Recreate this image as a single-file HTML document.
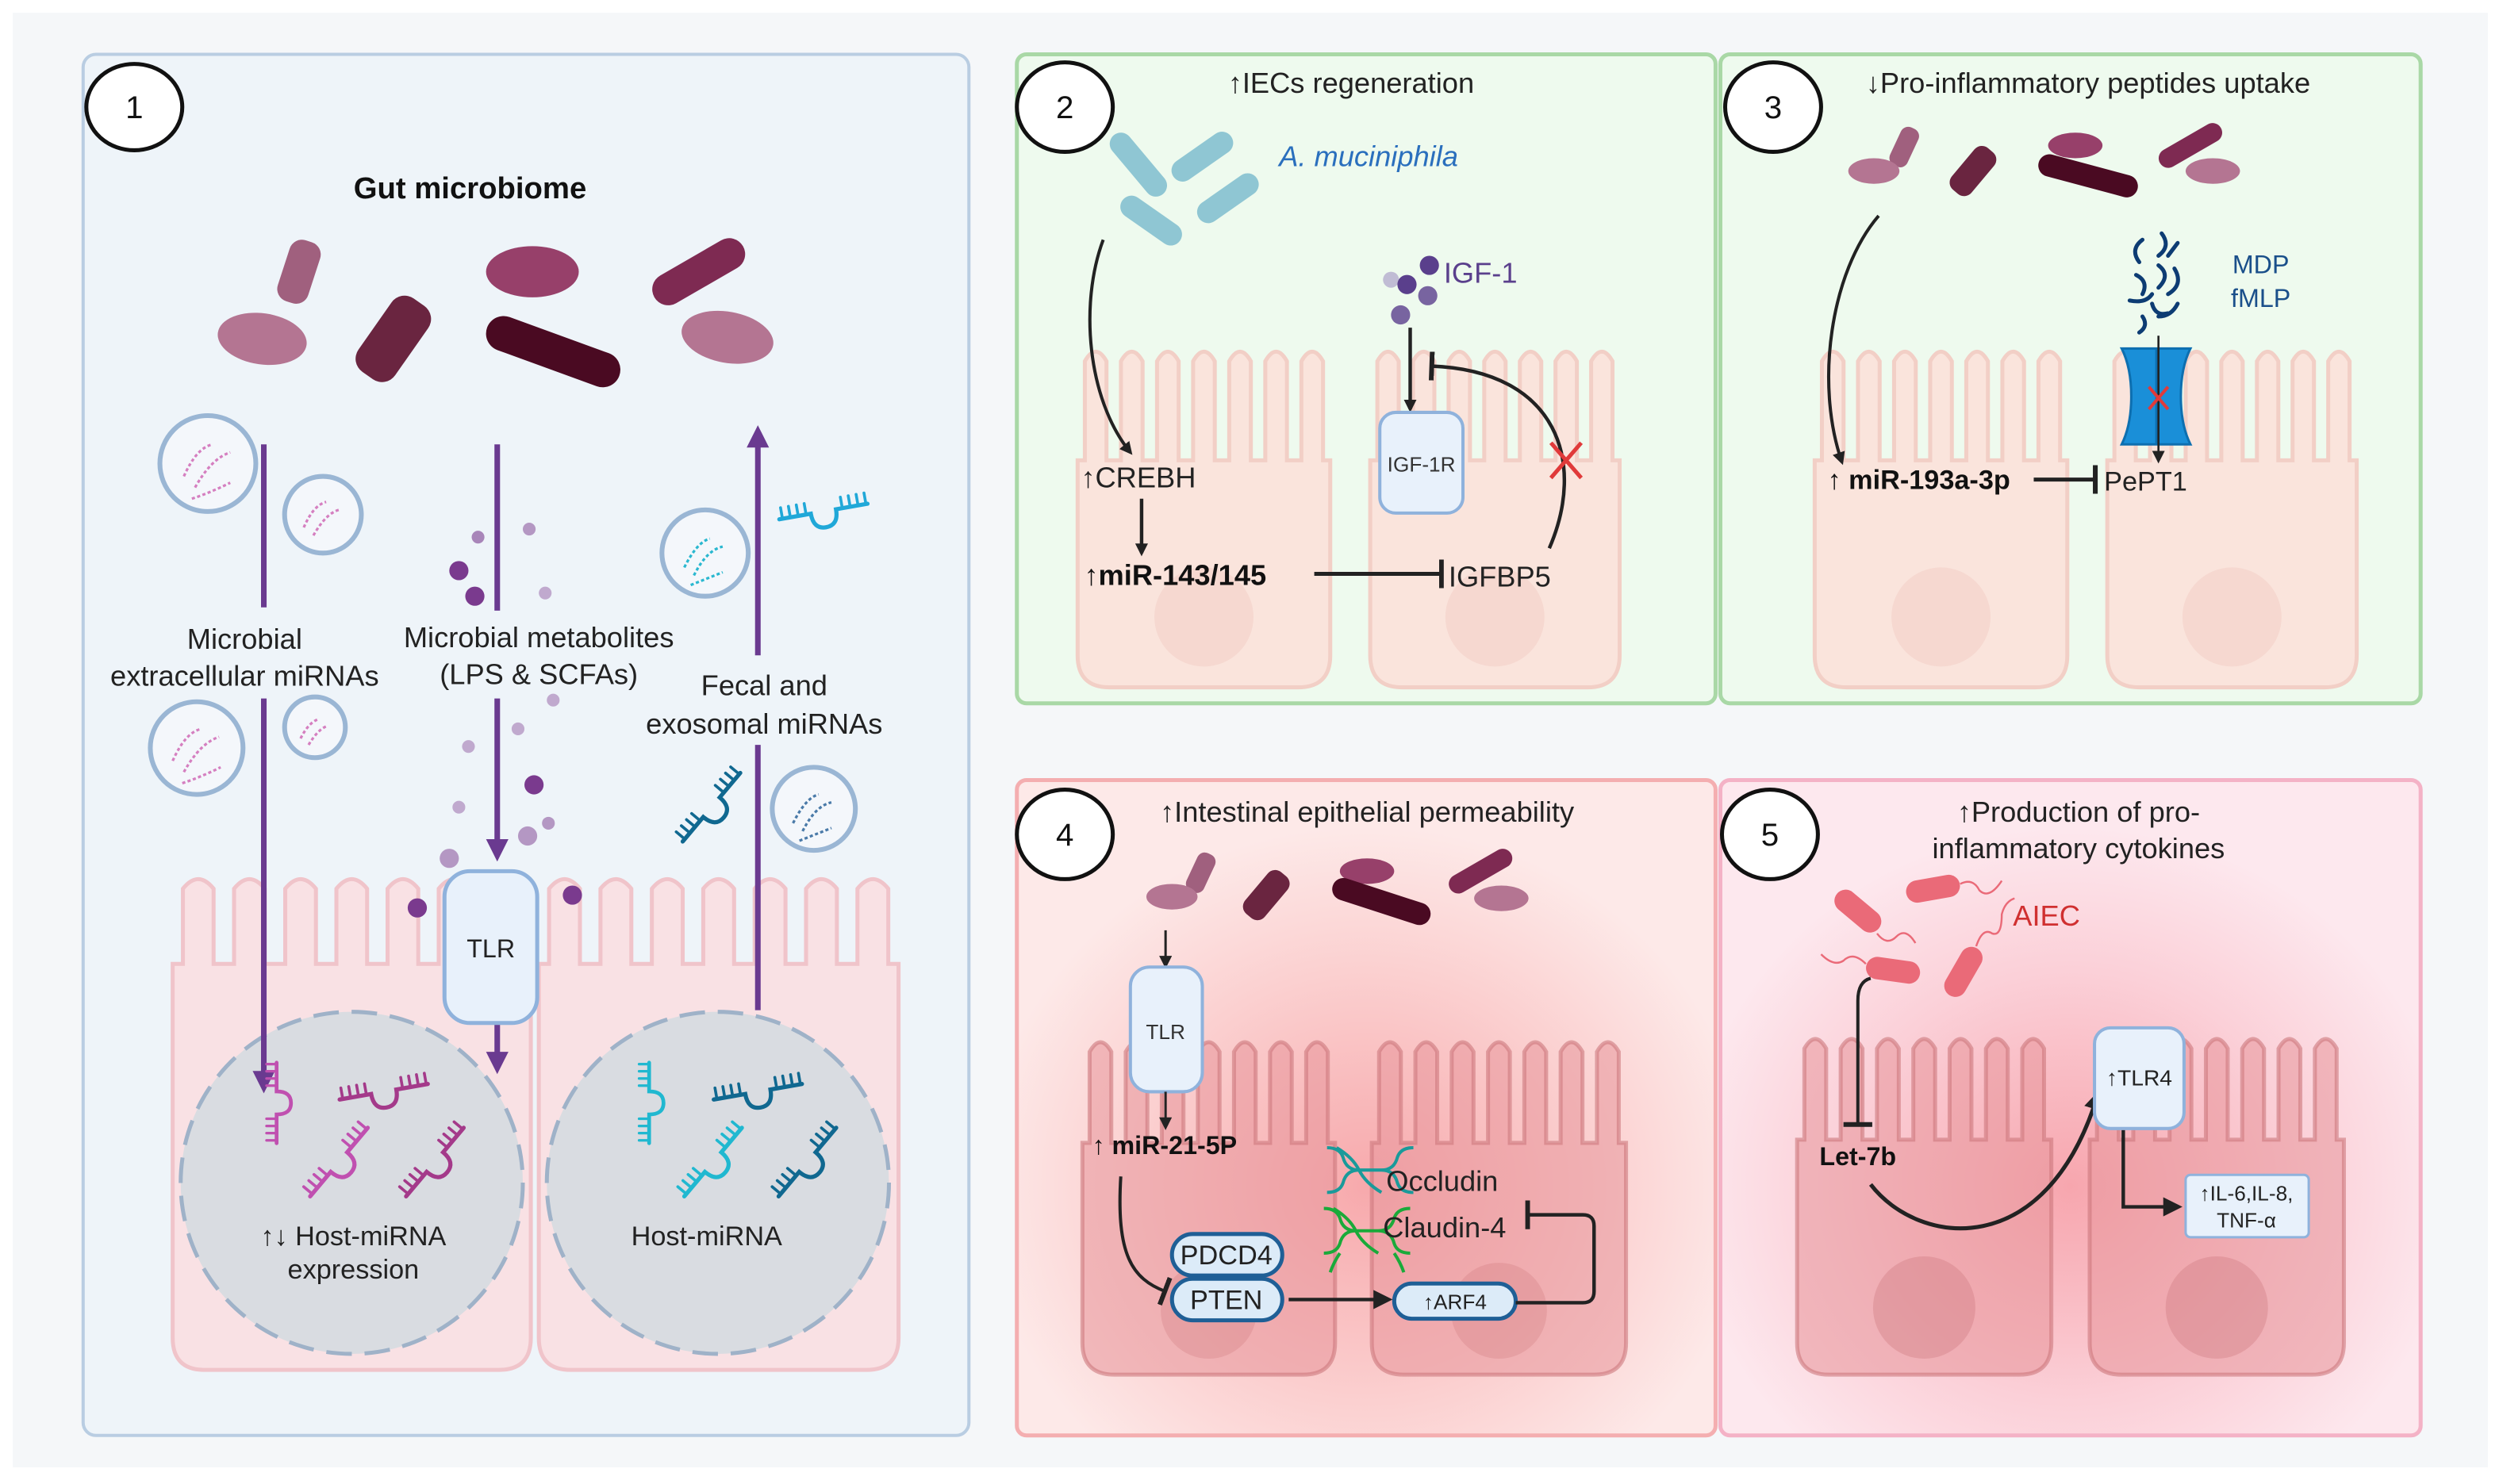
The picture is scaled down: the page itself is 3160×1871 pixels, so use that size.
<!DOCTYPE html>
<html><head><meta charset="utf-8"><style>
html,body{margin:0;padding:0;background:#fff;}
svg{display:block;}
text{font-family:"Liberation Sans",sans-serif;}
</style></head><body>
<svg id="s" width="3160" height="1871" viewBox="0 0 1568 928.4" preserveAspectRatio="none" xmlns="http://www.w3.org/2000/svg">
<defs>
<radialGradient id="g4" cx="0.5" cy="0.62" r="0.55"><stop offset="0" stop-color="#f7a9ac"/><stop offset="0.6" stop-color="#fbd0d0"/><stop offset="1" stop-color="#fde9e8"/></radialGradient>
<radialGradient id="g5" cx="0.5" cy="0.62" r="0.55"><stop offset="0" stop-color="#f7a6ae"/><stop offset="0.6" stop-color="#fbd0d8"/><stop offset="1" stop-color="#fde8ee"/></radialGradient>
<marker id="ak" markerWidth="8" markerHeight="8" refX="6" refY="4" orient="auto" markerUnits="userSpaceOnUse"><path d="M0,0 L8,4 L0,8z" fill="#222"/></marker>
<marker id="ak2" markerWidth="12" markerHeight="12" refX="9" refY="6" orient="auto" markerUnits="userSpaceOnUse"><path d="M0,0 L12,6 L0,12z" fill="#222"/></marker>
<marker id="ap" markerWidth="14" markerHeight="14" refX="10" refY="7" orient="auto" markerUnits="userSpaceOnUse"><path d="M0,0 L14,7 L0,14z" fill="#6a3a90"/></marker>
<marker id="bar" markerWidth="4" markerHeight="18" refX="2" refY="9" orient="auto" markerUnits="userSpaceOnUse"><rect x="0" y="0" width="3" height="18" fill="#222"/></marker>
</defs>
<rect x="0" y="0" width="1568" height="928.4" fill="#fff"/>
<rect x="8" y="8" width="1548" height="910" fill="#f5f7f9"/>
<rect x="52" y="34" width="554" height="864" rx="8" fill="#eef4f9" stroke="#b9cde2" stroke-width="2"/>
<rect x="636" y="34" width="437" height="406" rx="6" fill="#eefaee" stroke="#a9d8a6" stroke-width="2.5"/>
<rect x="1076" y="34" width="438" height="406" rx="6" fill="#eefaee" stroke="#a9d8a6" stroke-width="2.5"/>
<rect x="636" y="488" width="437" height="410" rx="6" fill="url(#g4)" stroke="#f4aeb0" stroke-width="2.5"/>
<rect x="1076" y="488" width="438" height="410" rx="6" fill="url(#g5)" stroke="#f4b2c6" stroke-width="2.5"/>
<g id="cells"></g>
<circle cx="220" cy="740" r="107" fill="#d9dce1" stroke="#9fb2c8" stroke-width="2.5" stroke-dasharray="16 8"/>
<circle cx="449" cy="740" r="107" fill="#d9dce1" stroke="#9fb2c8" stroke-width="2.5" stroke-dasharray="16 8"/>
<g fill="#fff" stroke="#111" stroke-width="2.5">
<ellipse cx="84" cy="67" rx="30" ry="27"/><ellipse cx="666" cy="67" rx="30" ry="28"/><ellipse cx="1109" cy="67" rx="30" ry="28"/><ellipse cx="666" cy="522" rx="30" ry="28"/><ellipse cx="1107" cy="522" rx="30" ry="28"/>
</g>
<g font-size="20" text-anchor="middle" fill="#111">
<text x="84" y="74">1</text><text x="666" y="74">2</text><text x="1109" y="74">3</text><text x="666" y="529">4</text><text x="1107" y="529">5</text>
</g>
<g>
<rect x="-10" y="-20" width="20" height="40" rx="8" transform="translate(187,170) rotate(18)" fill="#a0607e"/>
<ellipse cx="164" cy="212" rx="28" ry="16" fill="#b47592" transform="rotate(8 164 212)"/>
<rect x="-14" y="-28" width="28" height="56" rx="10" transform="translate(246,212) rotate(35)" fill="#6a2540"/>
<ellipse cx="333" cy="170" rx="29" ry="16" fill="#97406a"/>
<rect x="-44" y="-11" width="88" height="22" rx="11" transform="translate(346,220) rotate(20)" fill="#4a0a22"/>
<rect x="-32" y="-10" width="64" height="20" rx="10" transform="translate(437,170) rotate(-30)" fill="#7e2a52"/>
<ellipse cx="455" cy="211" rx="29" ry="16" fill="#b47592" transform="rotate(10 455 211)"/>
</g>
<text x="294" y="124" font-size="19" font-weight="bold" text-anchor="middle" fill="#111">Gut microbiome</text>
<g fill="#f4f7fb" stroke="#9ab6d4" stroke-width="3">
<circle cx="130" cy="290" r="30"/><circle cx="202" cy="322" r="24"/><circle cx="123" cy="468" r="29"/><circle cx="197" cy="455" r="19"/><circle cx="441" cy="346" r="27"/><circle cx="509" cy="506" r="26"/>
</g>
<g fill="none" stroke-width="1.6" stroke-dasharray="2 1.5">
<g stroke="#d57fc0"><path d="M115,298 q8,-18 18,-20 M122,305 q10,-18 22,-22 M120,312 q12,-4 24,-10"/><path d="M190,330 q6,-14 14,-16 M196,335 q8,-14 16,-16"/><path d="M108,476 q8,-18 18,-20 M115,483 q10,-18 22,-22 M114,490 q12,-4 24,-10"/><path d="M188,462 q5,-10 11,-12 M193,466 q6,-10 12,-12"/></g>
<path stroke="#2ab8d0" d="M428,355 q8,-16 16,-18 M434,360 q8,-16 18,-18 M432,366 q10,-4 20,-8"/>
<path stroke="#4a7aa8" d="M496,515 q8,-16 16,-18 M502,520 q8,-16 18,-18 M500,526 q10,-4 20,-8"/>
</g>
<g fill="#7a3a8e">
<circle cx="299" cy="336" r="4" opacity="0.6"/><circle cx="287" cy="357" r="6"/><circle cx="331" cy="331" r="4" opacity="0.5"/><circle cx="297" cy="373" r="6"/><circle cx="341" cy="371" r="4" opacity="0.4"/><circle cx="346" cy="438" r="4" opacity="0.4"/><circle cx="324" cy="456" r="4" opacity="0.4"/><circle cx="293" cy="467" r="4" opacity="0.4"/><circle cx="334" cy="491" r="6"/><circle cx="287" cy="505" r="4" opacity="0.4"/><circle cx="330" cy="523" r="6" opacity="0.5"/><circle cx="343" cy="515" r="4" opacity="0.5"/><circle cx="281" cy="537" r="6" opacity="0.5"/><circle cx="261" cy="568" r="6"/><circle cx="358" cy="560" r="6"/>
</g>
<g stroke="#6a3a90" stroke-width="3.5" fill="none">
<path d="M165,278 V380"/><path d="M165,437 V680" marker-end="url(#ap)"/>
<path d="M311,278 V382"/><path d="M311,437 V535" marker-end="url(#ap)"/>
<path d="M311,640 V668" marker-end="url(#ap)"/>
<path d="M474,632 V466"/><path d="M474,410 V270" marker-end="url(#ap)"/>
</g>
<g font-size="18" text-anchor="middle" fill="#222">
<text x="153" y="406">Microbial</text><text x="153" y="429">extracellular miRNAs</text>
<text x="337" y="405">Microbial metabolites</text><text x="337" y="428">(LPS &amp; SCFAs)</text>
<text x="478" y="435">Fecal and</text><text x="478" y="459">exosomal miRNAs</text>
</g>
<rect x="278" y="545" width="58" height="95" rx="16" fill="#e8f1fb" stroke="#8fb2dc" stroke-width="2.5"/>
<text x="307" y="599" font-size="16" text-anchor="middle" fill="#222">TLR</text>
<g id="mirs" fill="none" stroke-width="2.6" stroke-linecap="round"></g>
<g font-size="17" text-anchor="middle" fill="#222">
<text x="221" y="779">↑↓ Host-miRNA</text><text x="221" y="800">expression</text>
<text x="442" y="779">Host-miRNA</text>
</g>

<!-- PANEL 2 -->
<text x="845" y="58" font-size="18" text-anchor="middle" fill="#222">↑IECs regeneration</text>
<g fill="#8fc6d3">
<rect x="-7" y="-24" width="14" height="48" rx="7" transform="translate(712,103) rotate(-40)"/>
<rect x="-7" y="-22" width="14" height="44" rx="7" transform="translate(752,98) rotate(55)"/>
<rect x="-7" y="-22" width="14" height="44" rx="7" transform="translate(720,138) rotate(-55)"/>
<rect x="-7" y="-22" width="14" height="44" rx="7" transform="translate(768,124) rotate(55)"/>
</g>
<text x="856" y="104" font-size="18" font-style="italic" fill="#2a6fbd" text-anchor="middle">A. muciniphila</text>
<path d="M690,150 C675,190 680,250 707,283" stroke="#222" stroke-width="2" fill="none" marker-end="url(#ak)"/>
<text x="676" y="305" font-size="18" fill="#222">↑CREBH</text>
<path d="M714,312 V346" stroke="#222" stroke-width="2.2" marker-end="url(#ak)"/>
<text x="678" y="366" font-size="18" font-weight="bold" fill="#111">↑miR-143/145</text>
<path d="M822,359 H902" stroke="#222" stroke-width="2.5" marker-end="url(#bar)"/>
<text x="906" y="367" font-size="18" fill="#222">IGFBP5</text>
<g fill="#5a3f8c"><circle cx="870" cy="175" r="5" fill="#c0bcd4"/><circle cx="880" cy="178" r="6"/><circle cx="894" cy="166" r="6"/><circle cx="893" cy="185" r="6" opacity="0.8"/><circle cx="876" cy="197" r="6" opacity="0.8"/></g>
<text x="903" y="177" font-size="18" fill="#5a3f8c">IGF-1</text>
<path d="M882,205 V256" stroke="#222" stroke-width="2.2" marker-end="url(#ak)"/>
<rect x="863" y="258" width="52" height="63" rx="10" fill="#e8f1fb" stroke="#8fb2dc" stroke-width="2"/>
<text x="889" y="295" font-size="13" text-anchor="middle" fill="#333">IGF-1R</text>
<path d="M969,343 C992,290 975,232 895,229" stroke="#222" stroke-width="2.2" fill="none" marker-end="url(#bar)"/>
<path d="M970,277 L989,299 M989,277 L970,299" stroke="#e03a3a" stroke-width="2.5"/>

<!-- PANEL 3 -->
<text x="1306" y="58" font-size="18" text-anchor="middle" fill="#222">↓Pro-inflammatory peptides uptake</text>
<g>
<rect x="-6" y="-13" width="12" height="26" rx="5" transform="translate(1191,92) rotate(25)" fill="#a0607e"/>
<ellipse cx="1172" cy="107" rx="16" ry="8" fill="#b47592"/>
<rect x="-8" y="-17" width="16" height="34" rx="6" transform="translate(1234,107) rotate(40)" fill="#6a2540"/>
<ellipse cx="1298" cy="91" rx="17" ry="8" fill="#97406a"/>
<rect x="-32" y="-7" width="64" height="14" rx="7" transform="translate(1306,110) rotate(15)" fill="#4a0a22"/>
<rect x="-22" y="-6" width="44" height="12" rx="6" transform="translate(1370,91) rotate(-30)" fill="#7e2a52"/>
<ellipse cx="1384" cy="107" rx="17" ry="8" fill="#b47592"/>
</g>
<path d="M1175,135 C1145,170 1135,240 1152,289" stroke="#222" stroke-width="2" fill="none" marker-end="url(#ak)"/>
<g stroke="#0d3c73" stroke-width="2.5" fill="none" stroke-linecap="round">
<path d="M1340,150 q-8,6 -2,14 M1352,146 q6,8 -2,14 M1336,172 q8,4 4,12 M1350,166 q8,6 0,14 M1360,168 q6,10 -4,16 M1332,188 q10,2 14,-4 M1346,190 q2,8 10,6 M1362,190 q-4,8 -12,8 M1340,198 q4,6 -2,10 M1356,160 l6,-8"/>
</g>
<text x="1414" y="171" font-size="16" text-anchor="middle" fill="#1a4f8a">MDP</text>
<text x="1414" y="192" font-size="16" text-anchor="middle" fill="#1a4f8a">fMLP</text>
<path d="M1327,218 h43 q-6,12 -6,30 q0,18 6,30 h-43 q6,-12 6,-30 q0,-18 -6,-30z" fill="#1a8fd8" stroke="#0d6fb0" stroke-width="1.5"/>
<path d="M1349,218 v60" stroke="#0d6fb0" stroke-width="2"/>
<path d="M1350,210 V288" stroke="#222" stroke-width="1.3" marker-end="url(#ak)"/>
<path d="M1344,242 l12,14 M1356,242 l-12,14" stroke="#e03a3a" stroke-width="2"/>
<text x="1143" y="306" font-size="17" font-weight="bold" fill="#111">↑ miR-193a-3p</text>
<path d="M1272,300 H1311" stroke="#222" stroke-width="2.5" marker-end="url(#bar)"/>
<text x="1316" y="307" font-size="17" fill="#222">PePT1</text>

<!-- PANEL 4 -->
<text x="855" y="514" font-size="18" text-anchor="middle" fill="#222">↑Intestinal epithelial permeability</text>
<g>
<rect x="-6" y="-13" width="12" height="26" rx="5" transform="translate(751,546) rotate(25)" fill="#a0607e"/>
<ellipse cx="733" cy="561" rx="16" ry="8" fill="#b47592"/>
<rect x="-8" y="-17" width="16" height="34" rx="6" transform="translate(792,560) rotate(40)" fill="#6a2540"/>
<ellipse cx="855" cy="545" rx="17" ry="8" fill="#97406a"/>
<rect x="-32" y="-7" width="64" height="14" rx="7" transform="translate(864,564) rotate(18)" fill="#4a0a22"/>
<rect x="-22" y="-6" width="44" height="12" rx="6" transform="translate(926,545) rotate(-30)" fill="#7e2a52"/>
<ellipse cx="939" cy="562" rx="17" ry="8" fill="#b47592"/>
</g>
<path d="M729,582 V604" stroke="#222" stroke-width="1.5" marker-end="url(#ak)"/>
<rect x="707" y="605" width="45" height="78" rx="12" fill="#e8f1fb" stroke="#8fb2dc" stroke-width="2"/>
<text x="729" y="650" font-size="13" text-anchor="middle" fill="#333">TLR</text>
<path d="M729,683 V705" stroke="#222" stroke-width="1.5" marker-end="url(#ak)"/>
<text x="683" y="722" font-size="16" font-weight="bold" fill="#111">↑ miR-21-5P</text>
<path d="M701,736 C698,785 708,800 729,808" stroke="#222" stroke-width="2" fill="none" marker-end="url(#bar)"/>
<g stroke="#1f5f96" stroke-width="2.5" fill="#dcebf8">
<rect x="733" y="772" width="69" height="26" rx="13"/><rect x="733" y="800" width="69" height="26" rx="13"/>
<rect x="872" y="803" width="76" height="22" rx="11"/>
</g>
<g font-size="17" text-anchor="middle" fill="#222"><text x="767" y="791">PDCD4</text><text x="767" y="819">PTEN</text></g>
<text x="910" y="819" font-size="13" text-anchor="middle" fill="#222">↑ARF4</text>
<path d="M806,813 H868" stroke="#222" stroke-width="2.2" marker-end="url(#ak2)"/>
<path d="M948,815 H990 Q997,815 997,808 V767 Q997,760 990,760 H955" stroke="#222" stroke-width="2.2" fill="none" marker-end="url(#bar)"/>
<g fill="none" stroke-width="2">
<g stroke="#1a9a9a"><path d="M830,718 q8,0 10,6 q2,8 10,8 h14 q8,0 10,-8 q2,-6 10,-6 M830,746 q8,0 10,-6 q2,-8 10,-8 M864,732 q8,0 10,8 q2,6 10,6 M836,718 q10,6 14,14 q4,8 14,14"/></g>
<g stroke="#1aaa3a"><path d="M828,756 q8,0 10,6 q2,8 10,8 h14 q8,0 10,-8 q2,-6 10,-6 M828,784 q8,0 10,-6 q2,-8 10,-8 M862,770 q8,0 10,8 q2,6 10,6 M834,756 q10,6 14,14 q4,8 14,14 M838,784 q-4,6 -6,12 M872,784 q4,6 6,12"/></g>
</g>
<g font-size="18" fill="#222"><text x="867" y="745">Occludin</text><text x="865" y="774">Claudin-4</text></g>

<!-- PANEL 5 -->
<g font-size="18" text-anchor="middle" fill="#222"><text x="1300" y="514">↑Production of pro-</text><text x="1300" y="537">inflammatory cytokines</text></g>
<g fill="#ea6a78">
<rect x="-17" y="-7" width="34" height="14" rx="7" transform="translate(1162,570) rotate(40)"/>
<rect x="-17" y="-7" width="34" height="14" rx="7" transform="translate(1209,556) rotate(-10)"/>
<rect x="-17" y="-7" width="34" height="14" rx="7" transform="translate(1184,607) rotate(8)"/>
<rect x="-17" y="-7" width="34" height="14" rx="7" transform="translate(1228,608) rotate(-60)"/>
</g>
<g stroke="#ea6a78" stroke-width="1.2" fill="none">
<path d="M1174,584 q6,8 12,2 q6,-6 12,4"/><path d="M1226,553 q8,-4 12,4 q6,6 14,-6"/><path d="M1167,603 q-8,-8 -14,-2 q-6,4 -14,-4"/><path d="M1236,592 q4,-12 10,-8 q6,2 6,-12 q2,-8 8,-10"/>
</g>
<text x="1280" y="579" font-size="18" text-anchor="middle" fill="#d03030">AIEC</text>
<path d="M1170,612 Q1162,614 1162,626 V704" stroke="#222" stroke-width="2" fill="none" marker-end="url(#bar)"/>
<text x="1162" y="729" font-size="16" font-weight="bold" text-anchor="middle" fill="#111">Let-7b</text>
<path d="M1170,741 C1200,780 1280,790 1312,685" stroke="#222" stroke-width="2.5" fill="none" marker-end="url(#ak2)"/>
<rect x="1310" y="643" width="56" height="63" rx="10" fill="#e8f1fb" stroke="#8fb2dc" stroke-width="2"/>
<text x="1338" y="679" font-size="14" text-anchor="middle" fill="#222">↑TLR4</text>
<path d="M1328,707 V755 H1362" stroke="#222" stroke-width="2.2" fill="none" marker-end="url(#ak2)"/>
<rect x="1367" y="735" width="77" height="39" rx="3" fill="#e8f1fb" stroke="#8fb2dc" stroke-width="1.5"/>
<g font-size="13" text-anchor="middle" fill="#222"><text x="1405" y="751">↑IL-6,IL-8,</text><text x="1405" y="768">TNF-α</text></g>
</svg>
<script>
(function(){
var NS="http://www.w3.org/2000/svg";
var g=document.getElementById("cells");
function el(t,a,p){var e=document.createElementNS(NS,t);for(var k in a)e.setAttribute(k,a[k]);(p||g).appendChild(e);return e;}
function cell(x0,x1,y0,y1,n,fill,stroke,nuc,vh){
  vh=vh||50;
  var w=x1-x0, fw=w/n;
  var d="M"+x0+","+(y1-20)+" V"+(y0+vh);
  for(var i=0;i<n;i++){
    var a=x0+i*fw, l=a+fw*0.2, r=a+fw*0.8;
    d+=" H"+l+" V"+(y0+8)+" Q"+((l+r)/2)+","+(y0-4)+" "+r+","+(y0+8)+" V"+(y0+vh);
  }
  d+=" H"+x1+" V"+(y1-20)+" Q"+x1+","+y1+" "+(x1-20)+","+y1+" H"+(x0+20)+" Q"+x0+","+y1+" "+x0+","+(y1-20)+" Z";
  el("path",{d:d,fill:fill,stroke:stroke,"stroke-width":2.5});
  if(nuc) el("circle",{cx:(x0+x1)/2,cy:nuc[0],r:nuc[1],fill:nuc[2]});
}
cell(108,332,548,857,7,"#f9e1e4","#f0c4ca",null,55);
cell(337,562,548,857,7,"#f9e1e4","#f0c4ca",null,55);
cell(674,832,218,430,7,"#fae4dc","#f2cfc6",[386,31,"#f6d8d0"],70);
cell(857,1013,218,430,7,"#fae4dc","#f2cfc6",[386,31,"#f6d8d0"],70);
cell(1135,1293,218,430,7,"#fae4dc","#f2cfc6",[386,31,"#f6d8d0"],70);
cell(1318,1474,218,430,7,"#fae4dc","#f2cfc6",[386,31,"#f6d8d0"],70);
cell(677,835,650,860,7,"rgba(232,150,155,0.55)","rgba(205,120,125,0.6)",[820,30,"rgba(200,110,115,0.25)"],65);
cell(858,1017,650,860,7,"rgba(232,150,155,0.55)","rgba(205,120,125,0.6)",[820,30,"rgba(200,110,115,0.25)"],65);
cell(1124,1283,648,860,7,"rgba(232,150,155,0.55)","rgba(205,120,125,0.6)",[818,32,"rgba(200,110,115,0.3)"],65);
cell(1307,1466,648,860,7,"rgba(232,150,155,0.55)","rgba(205,120,125,0.6)",[818,32,"rgba(200,110,115,0.3)"],65);
var m=document.getElementById("mirs");
function mir(x,y,rot,col,s){
  var gg=el("g",{transform:"translate("+x+","+y+") rotate("+rot+") scale("+(s||1)+")",stroke:col},m);
  el("path",{d:"M-28,0 H-8 Q-8,10 0,10 Q8,10 8,0 H28"},gg);
  var t="";for(var i=0;i<4;i++){t+=" M"+(-26+i*5)+",0 v-7 M"+(12+i*5)+",0 v-7";}
  el("path",{d:t,"stroke-width":1.8},gg);
}
mir(173,690,-90,"#c050b0",0.9);
mir(240,683,-10,"#a43a8a",1);
mir(212,727,-50,"#c050b0",1);
mir(272,727,-50,"#a43a8a",1);
mir(406,690,-90,"#20b8d0",0.9);
mir(474,683,-10,"#106890",1);
mir(446,727,-50,"#20b8d0",1);
mir(505,727,-50,"#106890",1);
mir(515,320,-10,"#20a8d8",1);
mir(445,505,-50,"#106890",1);
})();
</script>
</body></html>
